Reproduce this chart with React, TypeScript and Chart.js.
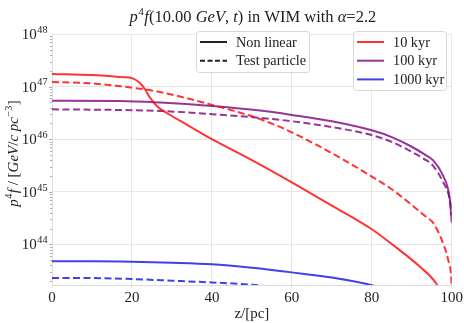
import React, { useEffect, useRef } from "react";
import { Chart, registerables } from "chart.js";

Chart.register(...registerables);

// ---- data ----
const zRedNL = [0, 10, 15, 18, 20, 22, 23.25, 24.5, 26.2, 28.7, 33.7, 40, 50, 60, 70, 80, 86, 92, 96.2, 97.5];
const red10NonLinear = [1.74e47, 1.66e47, 1.58e47, 1.51e47, 1.45e47, 1.17e47, 8.9e46, 6.2e46, 4.3e46, 3.15e46, 1.9e46, 1.0e46, 4.0e45, 1.51e45, 5.5e44, 1.95e44, 8.9e43, 3.8e43, 1.78e43, 1.12e43];

const zRedTP = [0, 10, 17, 27, 40, 51.5, 60, 72.4, 80, 85, 90.3, 93.7, 95.3, 97.8, 99.1, 99.9, 100];
const red10TestParticle = [1.23e47, 1.15e47, 1.02e47, 7.9e46, 4.5e46, 2.5e46, 1.35e46, 4.3e45, 1.95e45, 1.12e45, 5.4e44, 3.3e44, 2.6e44, 1.07e44, 5.1e43, 2.1e43, 1.26e43];

const zPurple = [0, 17, 27, 40, 51.5, 60, 70, 80, 85, 90, 93, 95.3, 97.8, 99.5, 100];
const purple100NonLinear = [5.4e46, 5.35e46, 5.0e46, 4.3e46, 3.55e46, 2.9e46, 2.2e46, 1.48e46, 1.1e46, 7.2e45, 5.25e45, 4.0e45, 2.05e45, 7.4e44, 2.6e44];
const purple100TestParticle = [3.7e46, 3.6e46, 3.45e46, 3.0e46, 2.57e46, 2.2e46, 1.7e46, 1.2e46, 8.9e45, 5.75e45, 4.25e45, 3.15e45, 1.55e45, 7.1e44, 3.55e44];

const zBlueNL = [0, 10, 20, 30, 40, 50, 60, 70, 80, 82];
const blue1000NonLinear = [4.8e43, 4.8e43, 4.7e43, 4.5e43, 4.2e43, 3.6e43, 2.95e43, 2.35e43, 1.68e43, 1.5e43];
const zBlueTP = [0, 10, 20, 30, 40, 50, 55];
const blue1000TestParticle = [2.3e43, 2.3e43, 2.2e43, 2.05e43, 1.9e43, 1.72e43, 1.58e43];

const xTicks = [0, 20, 40, 60, 80, 100];
const yDecades = [44, 45, 46, 47, 48];
const styleLabels = ["Non linear", "Test particle"];
const timeLabels = ["10 kyr", "100 kyr", "1000 kyr"];

const RED = "rgba(255,0,0,0.8)";
const PURPLE = "rgba(128,0,128,0.8)";
const BLUE = "rgba(0,0,230,0.75)";
const SERIF = "'Liberation Serif', 'DejaVu Serif', serif";

const pts = (xs: number[], ys: number[]) => xs.map((x, i) => ({ x, y: ys[i] }));

type Seg = { t: string; it?: boolean; sup?: boolean };

function richWidth(ctx: CanvasRenderingContext2D, segs: Seg[], size: number) {
  let w = 0;
  for (const s of segs) {
    const sz = s.sup ? size * 0.68 : size;
    ctx.font = `${s.it ? "italic " : ""}${sz}px ${SERIF}`;
    w += ctx.measureText(s.t).width + (s.sup ? 1 : 0);
  }
  return w;
}

function drawRich(ctx: CanvasRenderingContext2D, segs: Seg[], x: number, y: number, size: number, align: "left" | "center" | "right") {
  const w = richWidth(ctx, segs, size);
  let cx = align === "left" ? x : align === "center" ? x - w / 2 : x - w;
  ctx.textAlign = "left";
  ctx.textBaseline = "alphabetic";
  for (const s of segs) {
    const sz = s.sup ? size * 0.68 : size;
    ctx.font = `${s.it ? "italic " : ""}${sz}px ${SERIF}`;
    ctx.fillText(s.t, cx + (s.sup ? 0.5 : 0), s.sup ? y - size * 0.42 : y);
    cx += ctx.measureText(s.t).width + (s.sup ? 1 : 0);
  }
}

const overlay = {
  id: "overlay",
  afterDraw(chart: any) {
    const ctx: CanvasRenderingContext2D = chart.ctx;
    const ys = chart.scales.y;
    const xs = chart.scales.x;
    const area = chart.chartArea;
    ctx.save();
    ctx.fillStyle = "#222";

    // title
    drawRich(ctx, [
      { t: "p", it: true }, { t: "4", sup: true }, { t: "f", it: true }, { t: "(10.00 " },
      { t: "GeV", it: true }, { t: ", " }, { t: "t", it: true }, { t: ") in WIM with " },
      { t: "α", it: true }, { t: "=2.2" },
    ], (area.left + area.right) / 2 + 1, 22, 16.5, "center");

    // y tick labels (decades)
    for (const e of yDecades) {
      const py = ys.getPixelForValue(Math.pow(10, e));
      drawRich(ctx, [{ t: "10" }, { t: String(e), sup: true }], area.left - 4, py + 5, 15, "right");
    }

    // minor ticks on the left axis
    ctx.strokeStyle = "#aaa";
    ctx.lineWidth = 1;
    for (let e = 43; e < 48; e++) {
      for (let k = 1; k <= 9; k++) {
        const v = k * Math.pow(10, e);
        if (v < ys.min || v > ys.max) continue;
        const py = Math.round(ys.getPixelForValue(v)) + 0.5;
        ctx.beginPath();
        ctx.moveTo(area.left - (k === 1 ? 3 : 2), py);
        ctx.lineTo(area.left, py);
        ctx.stroke();
      }
    }

    // y label
    ctx.save();
    ctx.translate(18, (area.top + area.bottom) / 2 - 6);
    ctx.rotate(-Math.PI / 2);
    ctx.fillStyle = "#222";
    drawRich(ctx, [
      { t: "p", it: true }, { t: "4", sup: true }, { t: "f", it: true }, { t: " / [" },
      { t: "GeV", it: true }, { t: "/" }, { t: "c pc", it: true }, { t: "−3", sup: true }, { t: "]" },
    ], 0, 0, 15, "center");
    ctx.restore();

    // x label
    ctx.fillStyle = "#222";
    drawRich(ctx, [{ t: "z/[pc]" }], (xs.left + xs.right) / 2, 318, 15, "center");

    // legends
    const box = (x0: number, y0: number, x1: number, y1: number) => {
      ctx.beginPath();
      const r = 3;
      ctx.moveTo(x0 + r, y0);
      ctx.arcTo(x1, y0, x1, y1, r);
      ctx.arcTo(x1, y1, x0, y1, r);
      ctx.arcTo(x0, y1, x0, y0, r);
      ctx.arcTo(x0, y0, x1, y0, r);
      ctx.closePath();
      ctx.fillStyle = "rgba(255,255,255,0.85)";
      ctx.fill();
      ctx.strokeStyle = "#d8d8d8";
      ctx.lineWidth = 1;
      ctx.stroke();
    };
    const legendLine = (x: number, y: number, color: string, dash: number[]) => {
      ctx.beginPath();
      ctx.setLineDash(dash);
      ctx.strokeStyle = color;
      ctx.lineWidth = 2;
      ctx.moveTo(x, y);
      ctx.lineTo(x + 27, y);
      ctx.stroke();
      ctx.setLineDash([]);
    };
    box(196.5, 31.5, 309.5, 72.5);
    const styleDash = [[], [5, 2.5]];
    styleLabels.forEach((lab, i) => {
      const y = 42 + i * 18.7;
      legendLine(200, y, "#222", styleDash[i]);
      ctx.fillStyle = "#222";
      drawRich(ctx, [{ t: lab }], 236, y + 4.5, 14.3, "left");
    });
    box(353.5, 31.5, 446.5, 90.5);
    const cols = [RED, PURPLE, BLUE];
    timeLabels.forEach((lab, i) => {
      const y = 42 + i * 18.7;
      legendLine(357, y, cols[i], []);
      ctx.fillStyle = "#222";
      drawRich(ctx, [{ t: lab }], 393, y + 4.5, 14.3, "left");
    });
    ctx.restore();
  },
};

const bg = {
  id: "bg",
  beforeDraw(chart: any) {
    const c = chart.ctx;
    c.save();
    c.fillStyle = "#fff";
    c.fillRect(0, 0, chart.width, chart.height);
    c.restore();
  },
};

export default function App() {
  const ref = useRef<HTMLCanvasElement>(null);
  useEffect(() => {
    if (!ref.current) return;
    const mk = (data: any, color: string, dashed: boolean) => ({
      data,
      borderColor: color,
      backgroundColor: color,
      borderWidth: 2,
      borderDash: dashed ? [7, 3.5] : [],
      pointRadius: 0,
      fill: false,
      cubicInterpolationMode: "monotone",
    });
    const chart = new Chart(ref.current, {
      type: "line",
      data: {
        datasets: [
          mk(pts(zRedNL, red10NonLinear), RED, false),
          mk(pts(zRedTP, red10TestParticle), RED, true),
          mk(pts(zPurple, purple100NonLinear), PURPLE, false),
          mk(pts(zPurple, purple100TestParticle), PURPLE, true),
          mk(pts(zBlueNL, blue1000NonLinear), BLUE, false),
          mk(pts(zBlueTP, blue1000TestParticle), BLUE, true),
        ] as any,
      },
      options: {
        animation: false,
        responsive: true,
        maintainAspectRatio: false,
        layout: { padding: { top: 34, right: 11, left: 0, bottom: 0 } },
        plugins: { legend: { display: false }, title: { display: false }, tooltip: { enabled: false } },
        scales: {
          x: {
            type: "linear",
            min: 0,
            max: 100,
            afterBuildTicks: (s: any) => { s.ticks = xTicks.map((v) => ({ value: v })); },
            afterFit: (s: any) => { s.height = 38; },
            ticks: { color: "#222", font: { family: SERIF, size: 15 }, padding: 1, maxRotation: 0 },
            grid: { color: "#e6e6e6", lineWidth: 1, tickLength: 3, drawTicks: true },
            border: { display: true, color: "#dcdcdc" },
          },
          y: {
            type: "logarithmic",
            min: Math.pow(10, 43.23),
            max: 1e48,
            afterBuildTicks: (s: any) => { s.ticks = yDecades.map((e) => ({ value: Math.pow(10, e) })); },
            afterFit: (s: any) => { s.width = 52; },
            ticks: { display: false },
            grid: { color: "#e6e6e6", lineWidth: 1, drawTicks: false },
            border: { display: true, color: "#dcdcdc" },
          },
        },
      } as any,
      plugins: [bg, overlay],
    });
    return () => chart.destroy();
  }, []);
  return (
    <div style={{ position: "fixed", left: 0, top: 0, width: 464, height: 323, background: "#fff" }}>
      <canvas ref={ref} />
    </div>
  );
}
